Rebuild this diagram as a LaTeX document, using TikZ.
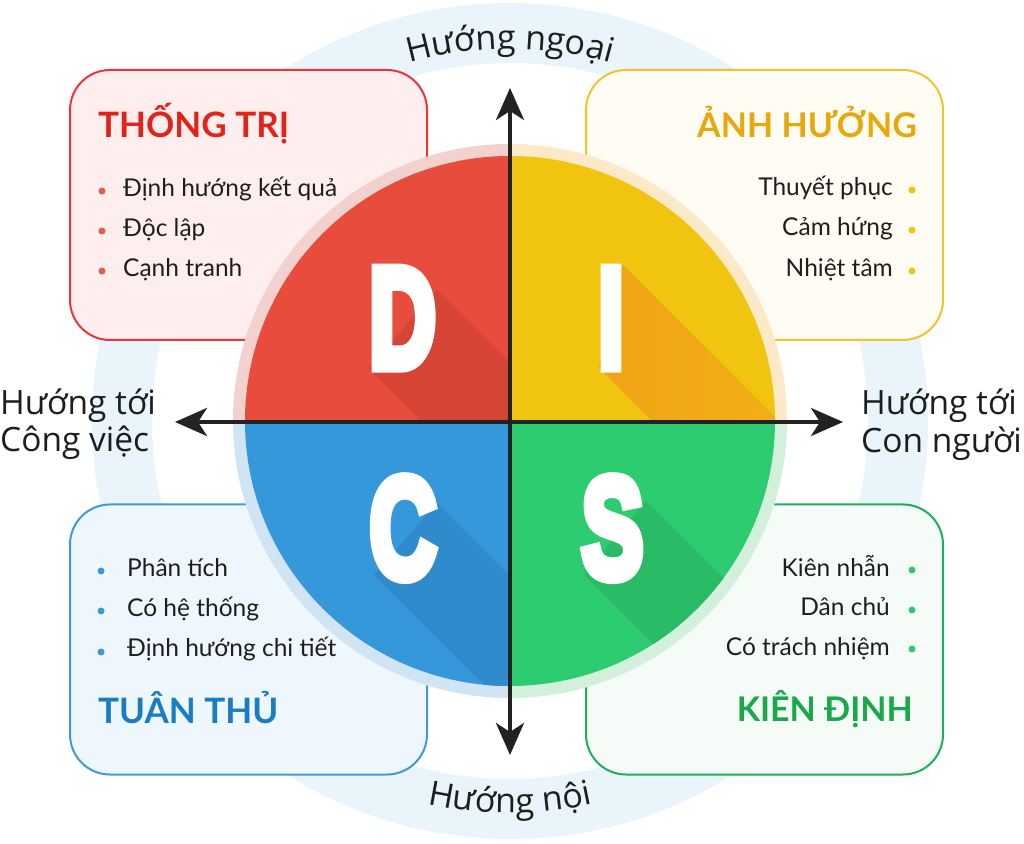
\documentclass[tikz,border=0pt]{standalone}
\usepackage{fontspec}
\setmainfont{Lato}
\newfontfamily\sidefont{Open Sans}
\newfontfamily\discfont{Liberation Sans}[BoldFeatures={FakeBold=8}]
\usetikzlibrary{arrows.meta,decorations.text,calc}
\definecolor{ringblue}{HTML}{E9F4FB}
\definecolor{redline}{HTML}{E8363A}
\definecolor{redbg}{HTML}{FEEEEE}
\definecolor{redtitle}{HTML}{E2231A}
\definecolor{redbul}{HTML}{E9594D}
\definecolor{yelline}{HTML}{F2C42A}
\definecolor{yelbg}{HTML}{FFFCF3}
\definecolor{yeltitle}{HTML}{E8A70A}
\definecolor{yelbul}{HTML}{F1C40F}
\definecolor{bluline}{HTML}{3F9ADB}
\definecolor{blubg}{HTML}{EEF7FD}
\definecolor{blutitle}{HTML}{1A7DC4}
\definecolor{blubul}{HTML}{3D97D9}
\definecolor{grnline}{HTML}{1FAF57}
\definecolor{grnbg}{HTML}{F5FCF8}
\definecolor{grntitle}{HTML}{19A94A}
\definecolor{grnbul}{HTML}{2ECC71}
\definecolor{redhalo}{HTML}{F3D1CF}
\definecolor{yelhalo}{HTML}{FCE9C7}
\definecolor{bluhalo}{HTML}{D0E4F3}
\definecolor{grnhalo}{HTML}{D3F0DD}
\definecolor{cD}{HTML}{E74C3C}
\definecolor{cI}{HTML}{F1C40F}
\definecolor{cC}{HTML}{3498DB}
\definecolor{cS}{HTML}{2ECC71}
\definecolor{sD}{HTML}{D64435}
\definecolor{sI}{HTML}{F0A416}
\definecolor{sIb}{HTML}{F2B814}
\definecolor{sC}{HTML}{2F8BCC}
\definecolor{sS}{HTML}{2ABB66}
\definecolor{axisgray}{HTML}{222222}
\definecolor{textdark}{HTML}{1E1E1E}
\begin{document}
\begin{tikzpicture}[x=1pt,y=1pt,
  box/.style={draw, line width=2pt, rounded corners=40pt, minimum width=357pt, minimum height=270pt, inner sep=0pt},
  bul/.style={circle, inner sep=0pt, minimum size=7pt},
  itemL/.style={anchor=base west, inner sep=0pt, text=textdark, font=\fontsize{24.5}{28}\selectfont},
  itemR/.style={anchor=base east, inner sep=0pt, text=textdark, font=\fontsize{24.5}{28}\selectfont},
  titleL/.style={anchor=base west, inner sep=0pt, font=\bfseries\fontsize{35}{40}\selectfont},
  titleR/.style={anchor=base east, inner sep=0pt, font=\bfseries\fontsize{34}{40}\selectfont},
  side/.style={anchor=base west, inner sep=0pt, text=textdark, font=\sidefont\fontsize{33.5}{38}\selectfont},
  disc/.style={anchor=base, inner sep=0pt, text=white, font=\discfont\bfseries\fontsize{142}{142}\selectfont},
  axis/.style={line width=4pt, draw=axisgray, arrows={Stealth[length=32pt,width=28pt,inset=9pt]-Stealth[length=32pt,width=28pt,inset=9pt]}}
]
\useasboundingbox (0,0) rectangle (1024,843);
\fill[white] (0,0) rectangle (1024,843);
\coordinate (C) at (510,422);
% outer ring
\fill[ringblue, even odd rule] (C) circle[radius=418] (C) circle[radius=358];
% curved labels
\path[decorate, decoration={text along path, text align=center,
  text={|\sidefont\fontsize{34}{38}\selectfont\color{textdark}|Hướng ngoại}}]
  ($(C)+(125:372)$) arc[start angle=125, end angle=55, radius=372];
\path[decorate, decoration={text along path, text align=center,
  text={|\sidefont\fontsize{34}{38}\selectfont\color{textdark}|Hướng nội}}]
  ($(C)+(235:392)$) arc[start angle=235, end angle=305, radius=392];
% boxes
\node[box, draw=redline, fill=redbg] (boxD) at (248.5,638) {};
\node[box, draw=yelline, fill=yelbg] (boxI) at (764.5,638) {};
\node[box, draw=bluline, fill=blubg] (boxC) at (248.5,203.5) {};
\node[box, draw=grnline, fill=grnbg] (boxS) at (764.5,203.5) {};
% halo
\fill[redhalo] (C) -- ++(90:277) arc[start angle=90, end angle=180, radius=277] -- cycle;
\fill[yelhalo] (C) -- ++(0:277) arc[start angle=0, end angle=90, radius=277] -- cycle;
\fill[bluhalo] (C) -- ++(180:277) arc[start angle=180, end angle=270, radius=277] -- cycle;
\fill[grnhalo] (C) -- ++(270:277) arc[start angle=270, end angle=360, radius=277] -- cycle;
% quadrants with long shadows
\begin{scope}
\clip (C) -- ++(90:265) arc[start angle=90, end angle=180, radius=265] -- cycle;
\fill[cD] (0,0) rectangle (1024,843);
\fill[sD] (368,475) -- (668,175) -- (737,253) -- (437,553) -- cycle;
\end{scope}
\begin{scope}
\clip (C) -- ++(0:265) arc[start angle=0, end angle=90, radius=265] -- cycle;
\fill[cI] (0,0) rectangle (1024,843);
\shade[left color=sI, right color=sIb] (599,475) -- (899,175) -- (923,278) -- (623,578) -- cycle;
\end{scope}
\begin{scope}
\clip (C) -- ++(180:265) arc[start angle=180, end angle=270, radius=265] -- cycle;
\fill[cC] (0,0) rectangle (1024,843);
\fill[sC] (374,268) -- (674,-32) -- (737,40) -- (437,340) -- cycle;
\end{scope}
\begin{scope}
\clip (C) -- ++(270:265) arc[start angle=270, end angle=360, radius=265] -- cycle;
\fill[cS] (0,0) rectangle (1024,843);
\fill[sS] (584,268) -- (884,-32) -- (946,42) -- (646,342) -- cycle;
\end{scope}
% letters
\node[disc] (D) at (402.5,476) {\scalebox{0.65}[1]{D}};
\node[disc] (I) at (611,476) {\scalebox{0.65}[1]{I}};
\node[disc] (Cl) at (403,266) {\scalebox{0.65}[1]{C}};
\node[disc] (S) at (612.5,266) {\scalebox{0.65}[1]{S}};
% axes
\coordinate (vtop) at (510,755);
\coordinate (vbot) at (510,88);
\coordinate (hl) at (175,421);
\coordinate (hr) at (843,421);
\draw[axis] (vbot) -- (vtop);
\draw[axis] (hl) -- (hr);
% side labels
\node[side] (l1) at (0,428) {Hướng tới};
\node[side] (l2) at (0,391) {Công việc};
\node[side] (r1) at (861,428) {Hướng tới};
\node[side] (r2) at (861,390) {Con người};
% red box contents
\node[titleL, text=redtitle] (tD) at (98,705) {THỐNG TRỊ};
\node[bul, fill=redbul] (bD1) at (102,652) {};
\node[bul, fill=redbul] (bD2) at (102,612) {};
\node[bul, fill=redbul] (bD3) at (102,572) {};
\node[itemL] (iD1) at (123,646) {Định hướng kết quả};
\node[itemL] (iD2) at (123,606) {Độc lập};
\node[itemL] (iD3) at (123,566) {Cạnh tranh};
% yellow box contents
\node[titleR, text=yeltitle] (tI) at (917,705) {ẢNH HƯỞNG};
\node[bul, fill=yelbul] (bI1) at (912,653) {};
\node[bul, fill=yelbul] (bI2) at (912,613) {};
\node[bul, fill=yelbul] (bI3) at (912,572) {};
\node[itemR] (iI1) at (893,647) {Thuyết phục};
\node[itemR] (iI2) at (893,607) {Cảm hứng};
\node[itemR] (iI3) at (893,566) {Nhiệt tâm};
% blue box contents
\node[bul, fill=blubul] (bC1) at (101,272) {};
\node[bul, fill=blubul] (bC2) at (101,232) {};
\node[bul, fill=blubul] (bC3) at (101,191) {};
\node[itemL] (iC1) at (127,266) {Phân tích};
\node[itemL] (iC2) at (127,226) {Có hệ thống};
\node[itemL] (iC3) at (127,186) {Định hướng chi tiết};
\node[titleL, text=blutitle] (tC) at (98,120) {TUÂN THỦ};
% green box contents
\node[bul, fill=grnbul] (bS1) at (912,273) {};
\node[bul, fill=grnbul] (bS2) at (912,233) {};
\node[bul, fill=grnbul] (bS3) at (912,194) {};
\node[itemR] (iS1) at (890,266) {Kiên nhẫn};
\node[itemR] (iS2) at (890,227) {Dân chủ};
\node[itemR] (iS3) at (890,187) {Có trách nhiệm};
\node[titleR, text=grntitle] (tS) at (913,122) {KIÊN ĐỊNH};
\end{tikzpicture}
\end{document}
